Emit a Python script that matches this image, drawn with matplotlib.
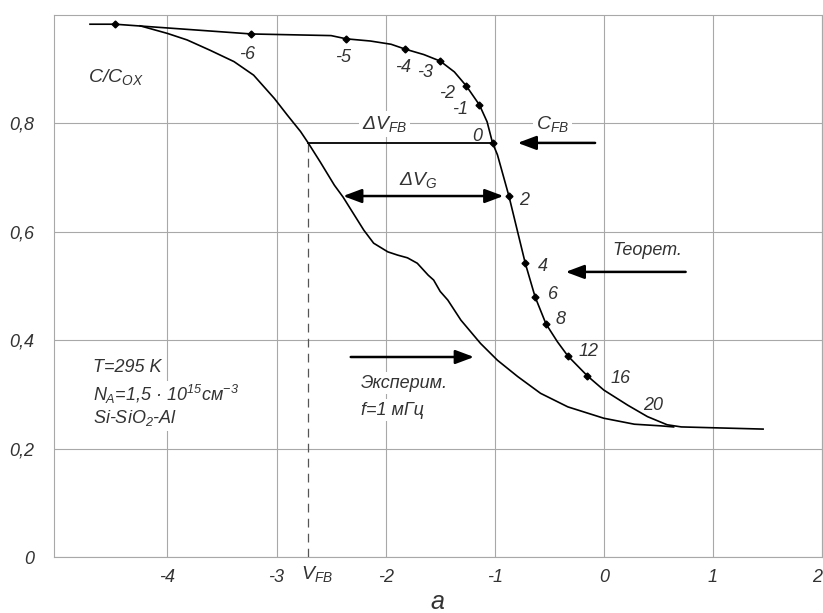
import matplotlib.pyplot as plt
import matplotlib.transforms as mtransforms

plt.rcParams['font.family'] = ['Liberation Sans', 'DejaVu Sans']
plt.rcParams['font.style'] = 'italic'
plt.rcParams['mathtext.fontset'] = 'custom'
plt.rcParams['mathtext.it'] = 'Liberation Sans:italic'
plt.rcParams['mathtext.rm'] = 'Liberation Sans:italic'
plt.rcParams['mathtext.sf'] = 'Liberation Sans:italic'

# теоретическая ВФХ (линия)
theo_v = [-4.71, -4.48, -3.23, -2.50, -2.36, -2.14, -1.95, -1.82, -1.65, -1.50,
          -1.37, -1.26, -1.14, -1.07, -1.02, -0.975, -0.87, -0.72, -0.63, -0.53,
          -0.425, -0.33, -0.15, 0.0, 0.22, 0.40, 0.58, 0.71, 1.46]
theo_c = [0.983, 0.983, 0.965, 0.962, 0.956, 0.952, 0.946, 0.937, 0.927, 0.915,
          0.895, 0.869, 0.834, 0.803, 0.764, 0.742, 0.666, 0.542, 0.480, 0.430,
          0.397, 0.371, 0.334, 0.308, 0.280, 0.259, 0.244, 0.240, 0.236]

# расчетные точки и значения поверхностного потенциала
pts_v = [-4.48, -3.23, -2.36, -1.82, -1.50, -1.26, -1.14, -1.02,
         -0.87, -0.72, -0.63, -0.53, -0.33, -0.15]
pts_c = [0.983, 0.965, 0.956, 0.937, 0.915, 0.869, 0.834, 0.764,
         0.666, 0.542, 0.480, 0.430, 0.371, 0.334]
pts_lbl = ['', '-6', '-5', '-4', '-3', '-2', '-1', '0',
           '2', '4', '6', '8', '12', '16']
lbl_off = [(0, 0), (-4, -21), (-3, -19), (-2, -18), (-15, -11), (-19, -7),
           (-19, -5), (-15, 6), (15, -4), (18, -3), (18, 2), (15, 4),
           (21, 4), (33, -3)]

# экспериментальная ВФХ, f = 1 мГц
exp_v = [-4.25, -4.00, -3.82, -3.61, -3.39, -3.21, -3.02, -2.90, -2.78, -2.71,
         -2.60, -2.47, -2.39, -2.20, -2.11, -1.98, -1.89, -1.80, -1.71, -1.61,
         -1.56, -1.50, -1.43, -1.31, -1.13, -0.975, -0.79, -0.58, -0.33, 0.0,
         0.28, 0.52, 0.64]
exp_c = [0.980, 0.966, 0.954, 0.935, 0.914, 0.889, 0.846, 0.815, 0.785, 0.764,
         0.729, 0.686, 0.664, 0.603, 0.579, 0.563, 0.557, 0.552, 0.542, 0.520,
         0.511, 0.490, 0.474, 0.437, 0.394, 0.363, 0.333, 0.302, 0.277, 0.256,
         0.245, 0.242, 0.240]

v_fb = -2.71
c_fb = 0.764
v_fb_theo = -1.02

xticks = [-4, -3, -2, -1, 0, 1, 2]
yticks = [0, 0.2, 0.4, 0.6, 0.8]
ytick_lbl = ['0', '0,2', '0,4', '0,6', '0,8']

txt_col = '#333333'
grid_col = '#a8a8a8'

fig = plt.figure(figsize=(8.23, 6.13), dpi=100)
ax = fig.add_axes([54 / 823, 56 / 613, 768 / 823, 542 / 613])
ax.set_xlim(-5.04, 2.0)
ax.set_ylim(0, 1.0)

ax.set_xticks(xticks)
ax.set_xticklabels([str(t) for t in xticks])
ax.set_yticks(yticks)
ax.set_yticklabels(ytick_lbl)
ax.tick_params(length=0, labelsize=13, colors=txt_col)
ax.tick_params(axis='y', pad=14)
ax.tick_params(axis='x', pad=9)
ax.get_xticklabels()[-1].set_ha('right')
ax.grid(True, color=grid_col, linewidth=0.8)
ax.set_axisbelow(True)
for s in ax.spines.values():
    s.set_color(grid_col)
    s.set_linewidth(0.8)

# кривые
ax.plot(theo_v, theo_c, color='black', lw=1.2, solid_joinstyle='round', zorder=4)
ax.plot(exp_v, exp_c, color='black', lw=1.2, solid_joinstyle='round', zorder=4)
ax.plot(pts_v, pts_c, 'D', color='black', ms=3.5, zorder=5)

for x, y, t, off in zip(pts_v, pts_c, pts_lbl, lbl_off):
    if t:
        ax.annotate(t, (x, y), xytext=off, textcoords='offset pixels',
                    ha='center', va='center', fontsize=13, color=txt_col, zorder=6)
ax.text(0.45, 0.280, '20', ha='center', va='center', fontsize=13, color=txt_col)

# V_FB
ax.plot([v_fb, v_fb], [0, c_fb], color='#555555', lw=0.9, dashes=(7, 5), zorder=3)
ax.plot([v_fb, v_fb_theo], [c_fb, c_fb], color='black', lw=1.3, zorder=4)

arr = dict(arrowstyle='-|>,head_length=0.8,head_width=0.3', mutation_scale=14,
           color='black', lw=1.8, shrinkA=0, shrinkB=0)
arr2 = dict(arr, arrowstyle='<|-|>,head_length=0.8,head_width=0.3')

ax.annotate('', xy=(-0.79, c_fb), xytext=(-0.08, c_fb), arrowprops=arr, zorder=5)
ax.annotate('', xy=(-2.39, 0.666), xytext=(-0.92, 0.666), arrowprops=arr2, zorder=5)
ax.annotate('', xy=(-0.35, 0.526), xytext=(0.75, 0.526), arrowprops=arr, zorder=5)
ax.annotate('', xy=(-1.19, 0.369), xytext=(-2.32, 0.369), arrowprops=arr, zorder=5)

box = dict(facecolor='white', edgecolor='none', pad=2)
ax.text(-2.01, 0.799, r'$\Delta V_{FB}$', ha='center', va='center', fontsize=14,
        color=txt_col, bbox=box, zorder=3)
ax.text(-0.47, 0.799, r'$C_{FB}$', ha='center', va='center', fontsize=14,
        color=txt_col, bbox=box, zorder=3)
ax.text(-1.70, 0.696, r'$\Delta V_{G}$', ha='center', va='center', fontsize=14,
        color=txt_col, zorder=3)
ax.text(-4.73, 0.886, r'$C/C_{OX}$', ha='left', va='center', fontsize=14,
        color=txt_col)
ax.text(0.40, 0.566, 'Теорет.', ha='center', va='center', fontsize=13,
        color=txt_col)

ax.text(-2.23, 0.321, 'Эксперим.', ha='left', va='center', fontsize=13,
        color=txt_col, bbox=box, zorder=3)
ax.text(-2.23, 0.271, 'f=1 мГц', ha='left', va='center', fontsize=13,
        color=txt_col, bbox=box, zorder=3)

ax.text(-4.68, 0.350, 'T=295 K', ha='left', va='center', fontsize=13,
        color=txt_col, bbox=box, zorder=3)
ax.text(-4.68, 0.299, r'$N_A$=1,5 · 10$^{15}$см$^{-3}$', ha='left', va='center',
        fontsize=13, color=txt_col, bbox=box, zorder=3)
ax.text(-4.68, 0.256, r'Si-SiO$_2$-Al', ha='left', va='center', fontsize=13,
        color=txt_col, bbox=box, zorder=3)

trans = mtransforms.blended_transform_factory(ax.transData, ax.transAxes)
ax.text(v_fb + 0.08, -0.013, r'$V_{FB}$', transform=trans, ha='center', va='top',
        fontsize=14, color=txt_col)

fig.text(437 / 823, 1 - 590 / 613, 'a', ha='center', va='top', fontsize=18,
         color=txt_col)

fig.savefig('out.png', dpi=100)
